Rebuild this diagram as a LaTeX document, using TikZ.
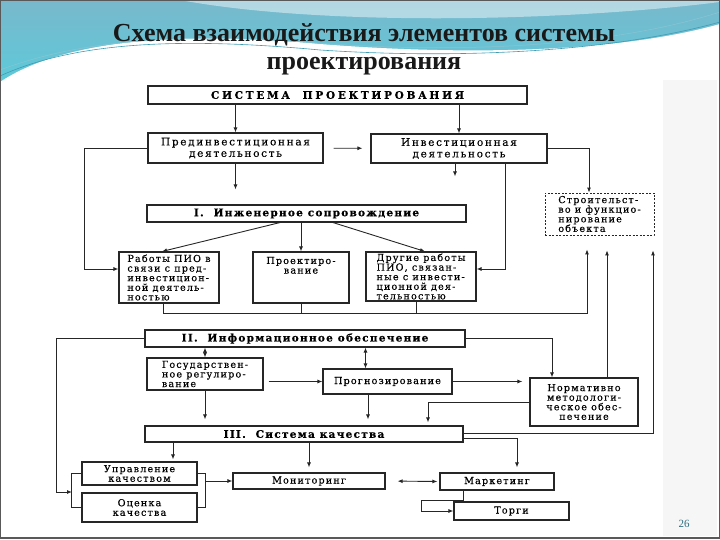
\documentclass[tikz,border=0pt]{standalone}
\usepackage{fontspec}
\setmainfont{Liberation Serif}
\newfontfamily\scanfont[LetterSpace=12, FakeBold=0.35]{DejaVu Serif}
\usetikzlibrary{arrows.meta}

\definecolor{hdtop}{HTML}{79B8CC}
\definecolor{hdbot}{HTML}{5CCAD9}
\definecolor{hdline}{HTML}{3E9DB5}
\definecolor{ink}{HTML}{262626}

\begin{document}
\begin{tikzpicture}[x=1pt, y=-1pt,
    >={Latex[length=5pt,width=4pt]},
    box/.style={draw=ink, line width=1.1pt, inner sep=1.5pt,
        font=\scanfont\fontsize{9.6}{9.6}\selectfont, align=center},
    wbox/.style={box, font=\scanfont\addfontfeature{LetterSpace=16}\fontsize{10.5}{11.5}\selectfont},
    dbox/.style={box, dash pattern=on 2pt off 1.5pt, line width=0.8pt, align=left},
    hbox/.style={box, font=\scanfont\bfseries\fontsize{10.5}{11}\selectfont},
    conn/.style={draw=ink, line width=0.9pt}
]
\useasboundingbox (0,0) rectangle (720,540);

% slide background -- header waves
\fill[top color=hdtop, bottom color=hdbot] (0,0) rectangle (720,84);
\fill[white, opacity=0.45] (180,0) .. controls (320,26) and (560,22) .. (720,2) -- (720,0) -- cycle;
\fill[white] (0,82) .. controls (60,42) and (170,30) .. (320,44)
    .. controls (470,56) and (620,52) .. (720,24) -- (720,90) -- (0,90) -- cycle;
\draw[hdline, line width=0.6pt] (0,76) .. controls (70,44) and (170,36) .. (320,50)
    .. controls (470,60) and (620,50) .. (720,22);
\draw[hdline!60, line width=0.5pt] (0,70) .. controls (80,40) and (180,32) .. (330,44)
    .. controls (480,54) and (620,44) .. (720,12);
\fill[gray!7] (663,80) rectangle (717,536);
\draw[gray!70!black, line width=1.4pt] (0.7,0.7) rectangle (719.3,538);

% title
\node[font=\bfseries\fontsize{26}{28}\selectfont, align=center, text=black!90]
    (title) at (364,49) {Схема взаимодействия элементов системы\\проектирования};

% top level
\node[hbox, minimum width=379, minimum height=18]
    (sys) at (337.5,95) {\addfontfeature{LetterSpace=26}СИСТЕМА \ ПРОЕКТИРОВАНИЯ};
\node[wbox, minimum width=175, minimum height=30] (pre) at (235.5,148)
    {Прединвестиционная\\деятельность};
\node[wbox, minimum width=176, minimum height=29] (inv) at (459,148.5)
    {Инвестиционная\\деятельность};
\node[dbox, minimum width=109, minimum height=42] (build) at (599.5,214)
    {Строительст-\\во и функцио-\\нирование\\объекта};

% I. engineering
\node[hbox, minimum width=319, minimum height=17] (eng) at (306.5,213.5)
    {I. \ Инженерное сопровождение};
\node[box, minimum width=100, minimum height=51, align=left]
    (rab) at (169,277.5) {Работы ПИО в\\связи с пред-\\инвестицион-\\ной деятель-\\ностью};
\node[box, minimum width=96, minimum height=51,
    label={[font=\scanfont\fontsize{9.6}{9.6}\selectfont, align=center, anchor=north, yshift=-2pt]north:Проектиро-\\вание}]
    (proj) at (301,277.5) {};
\node[box, minimum width=110, minimum height=49, align=left]
    (oth) at (421,276.5) {Другие работы\\ПИО, связан-\\ные с инвести-\\ционной дея-\\тельностью};

% II. information
\node[hbox, minimum width=320, minimum height=17] (info) at (305,338.5)
    {II. \ Информационное обеспечение};
\node[box, minimum width=116, minimum height=32, align=left]
    (gos) at (205,374) {Государствен-\\ное регулиро-\\вание};
\node[box, minimum width=129, minimum height=25] (prog) at (387.5,381.5) {Прогнозирование};
\node[box, minimum width=108, minimum height=48] (norm) at (584,402)
    {Нормативно\\методологи-\\ческое обес-\\печение};

% III. quality
\node[hbox, minimum width=318, minimum height=16] (qual) at (304,434)
    {III. \ Система качества};
\node[box, minimum width=115, minimum height=23] (upr) at (139.5,473.5) {Управление\\качеством};
\node[box, minimum width=115, minimum height=29] (ots) at (139.5,507.5) {Оценка\\качества};
\node[box, minimum width=152, minimum height=16] (mon) at (309,481) {Мониторинг};
\node[box, minimum width=114, minimum height=17] (mark) at (497,481.5) {Маркетинг};
\node[box, minimum width=115, minimum height=18] (torg) at (511.5,511) {Торги};

\node[font=\fontsize{11}{12}\selectfont, text=hdline!70!black] (page) at (684,524) {26};

% connectors -- top part
\draw[conn, ->] (sys.south -| pre.north) -- (pre.north);
\draw[conn, ->] (sys.south -| inv.north) -- (inv.north);
\draw[conn, ->, shorten <=10pt, shorten >=8pt] (pre) -- (inv);
\draw[conn, ->, shorten >=15pt] (pre.south) -- (pre.south |- eng.north);
\draw[conn, ->, shorten >=28pt] ([xshift=-4]inv.south) -- ([xshift=-4]inv.south |- eng.north);
\draw[conn, ->] (pre.west) -- ++(-63,0) |- ([yshift=8.5]rab.west);
\draw[conn, ->] (inv.east) -| ([xshift=-10.5]build.north);
\draw[conn, ->] ([xshift=46]inv.south) |- ([yshift=7.5]oth.east);
\draw[conn, ->] ([xshift=-26.5]eng.south) -- ([xshift=-7]rab.north);
\draw[conn, ->] (eng.south -| proj.north) -- (proj.north);
\draw[conn, ->] ([xshift=26.5]eng.south) -- ([xshift=4]oth.north);

% bus under the I. boxes
\coordinate (bus) at (163,313);
\draw[conn, ->, shorten >=14pt] (bus |- rab.south) -- (bus) -| ([xshift=-12.5]build.south);
\draw[conn] (proj.south) -- (proj.south |- bus);
\draw[conn] ([xshift=-5]oth.south) -- ([xshift=-5]oth.south |- bus);
\draw[conn, ->, shorten >=15pt] ([xshift=23]norm.north) -- ([xshift=23]norm.north |- build.south);
\draw[conn, ->, shorten >=15pt] ([yshift=1]qual.east) -| ([xshift=53.5]build.south);

% II. block
\draw[conn, <->] (info.south -| gos.north) -- (gos.north);
\draw[conn, <->] (info.south -| prog.north) ++(-22,0) -- ([xshift=-22]prog.north);
\draw[conn, ->] (info.east) -| ([xshift=-32]norm.north);
\draw[conn, ->, shorten <=5pt] (gos.east |- prog.west) -- (prog.west);
\draw[conn, ->, shorten >=7pt] (prog.east) -- (prog.east -| norm.west);
\draw[conn, ->, shorten >=3pt] (norm.west) -| ([xshift=124]qual.north);
\draw[conn, ->, shorten >=6pt] (gos.south) -- (gos.south |- qual.north);
\draw[conn, ->, shorten >=6pt] ([xshift=-19.5]prog.south) -- ([xshift=-19.5]prog.south |- qual.north);

% III. block
\coordinate (lbr) at (72,492);
\coordinate (rbr) at (205,481);
\draw[conn, ->] (info.west) -- ++(-88,0) |- (lbr);
\draw[conn] (upr.west) -- ++(-10,0) |- (ots.west);
\draw[conn] (upr.east) -- ++(8,0) |- (ots.east);
\draw[conn, ->] (rbr) -- (mon.west);
\draw[conn, ->, shorten >=2pt] ([xshift=33.5]upr.north |- qual.south) -- ([xshift=33.5]upr.north);
\draw[conn, ->, shorten >=5pt] (qual.south -| mon.north) -- (mon.north);
\draw[conn, ->, shorten >=5pt] ([yshift=-4]qual.east) -| ([xshift=20]mark.north);
\draw[conn, <->, shorten <=12pt, shorten >=2pt] (mon.east) -- (mark.west);
\draw[conn, ->] ([xshift=-34]mark.south) -- ++(0,10) -- ++(-42,0) |- (torg.west);
\end{tikzpicture}
\end{document}
